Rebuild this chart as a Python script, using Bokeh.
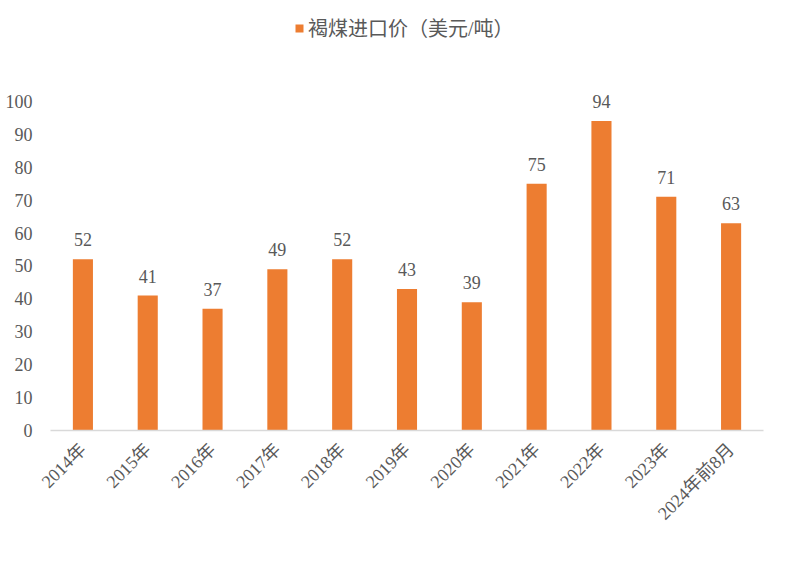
import math
from bokeh.plotting import figure
from bokeh.models import ColumnDataSource, Legend, LegendItem, FixedTicker, Range1d
from bokeh.core.properties import value
from bokeh.embed import file_html
from bokeh.resources import INLINE

categories = ["2014年", "2015年", "2016年", "2017年", "2018年", "2019年",
              "2020年", "2021年", "2022年", "2023年", "2024年前8月"]
prices = [52, 41, 37, 49, 52, 43, 39, 75, 94, 71, 63]
series_name = "褐煤进口价（美元/吨）"
y_ticks = [0, 10, 20, 30, 40, 50, 60, 70, 80, 90, 100]

FONT = "Liberation Serif, Noto Sans CJK SC"
TXT = "#595959"
BAR = "#ED7D31"

src = ColumnDataSource(dict(cat=categories, val=prices, lbl=[str(v) for v in prices]))

p = figure(width=792, height=566, x_range=categories, y_range=Range1d(0, 127.6),
           output_backend="svg", toolbar_location=None,
           min_border_left=50, min_border_right=29, min_border_top=10, min_border_bottom=136)
p.outline_line_color = None
p.xgrid.grid_line_color = None
p.ygrid.grid_line_color = None
p.x_range.range_padding = 0

r = p.vbar(x="cat", top="val", width=0.31, source=src, fill_color=BAR, line_color=None)

p.text(x="cat", y="val", text="lbl", source=src, y_offset=-13,
       text_align="center", text_baseline="bottom", text_color=TXT,
       text_font=value(FONT), text_font_size="18px")

p.yaxis.ticker = FixedTicker(ticks=y_ticks)
p.yaxis.axis_line_color = None
p.yaxis.major_tick_line_color = None
p.yaxis.minor_tick_line_color = None
p.yaxis.major_label_text_font = FONT
p.yaxis.major_label_text_font_size = "18px"
p.yaxis.major_label_text_color = TXT
p.yaxis.major_label_standoff = 12

p.xaxis.axis_line_color = "#D9D9D9"
p.xaxis.axis_line_width = 1.5
p.xaxis.major_tick_line_color = None
p.xaxis.minor_tick_line_color = None
p.xaxis.major_label_orientation = math.pi / 4
p.xaxis.major_label_text_font = FONT
p.xaxis.major_label_text_font_size = "18px"
p.xaxis.major_label_text_color = TXT
p.xaxis.major_label_standoff = 10

legend = Legend(items=[LegendItem(label=series_name, renderers=[r])],
                location=(244, 388), border_line_color=None, background_fill_alpha=0,
                label_text_font=FONT, label_text_font_size="20px", label_text_color=TXT,
                glyph_width=10, glyph_height=10, label_standoff=4)
p.add_layout(legend, "center")

open("out.html", "w").write(file_html(p, INLINE))
